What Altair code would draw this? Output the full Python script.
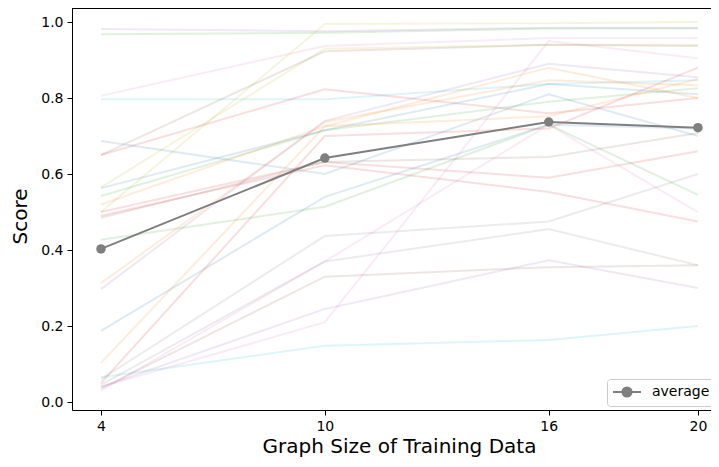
import altair as alt
import pandas as pd

# x positions (graph size of training data)
sizes = [4, 10, 16, 20]

# per-run colours (matplotlib tab10 cycle)
run_colors = [
    "#9467bd", "#2ca02c", "#bcbd22", "#bcbd22", "#e377c2", "#8c564b",
    "#d62728", "#17becf", "#1f77b4", "#1f77b4", "#2ca02c", "#ff7f0e",
    "#d62728", "#8c564b", "#2ca02c", "#ff7f0e", "#9467bd", "#1f77b4",
    "#ff7f0e", "#d62728", "#d62728", "#e377c2", "#e377c2", "#7f7f7f",
    "#7f7f7f", "#8c564b", "#9467bd", "#17becf",
]

# per-run scores at sizes 4, 10, 16, 20
run_scores = [
    [0.982, 0.976, 0.985, 0.985],
    [0.968, 0.972, 0.983, 0.983],
    [0.500, 0.995, 0.997, 1.000],
    [0.565, 0.930, 0.940, 0.940],
    [0.806, 0.937, 0.958, 0.958],
    [0.650, 0.923, 0.940, 0.937],
    [0.650, 0.823, 0.760, 0.800],
    [0.797, 0.797, 0.837, 0.847],
    [0.687, 0.600, 0.810, 0.700],
    [0.563, 0.715, 0.837, 0.810],
    [0.542, 0.715, 0.790, 0.826],
    [0.520, 0.726, 0.880, 0.800],
    [0.500, 0.632, 0.590, 0.660],
    [0.485, 0.632, 0.645, 0.708],
    [0.427, 0.514, 0.730, 0.545],
    [0.313, 0.737, 0.847, 0.834],
    [0.297, 0.740, 0.890, 0.855],
    [0.187, 0.540, 0.730, 0.720],
    [0.103, 0.726, 0.752, 0.850],
    [0.050, 0.700, 0.720, 0.880],
    [0.490, 0.623, 0.553, 0.475],
    [0.040, 0.210, 0.950, 0.905],
    [0.030, 0.370, 0.730, 0.500],
    [0.060, 0.437, 0.475, 0.600],
    [0.045, 0.370, 0.455, 0.360],
    [0.035, 0.330, 0.355, 0.360],
    [0.040, 0.245, 0.373, 0.300],
    [0.065, 0.148, 0.163, 0.200],
]

# average curve
average_scores = [0.403, 0.642, 0.737, 0.722]
average_label = "average"

y_ticks = [0.0, 0.2, 0.4, 0.6, 0.8, 1.0]

rows = []
for i, (col, vals) in enumerate(zip(run_colors, run_scores)):
    for s, v in zip(sizes, vals):
        rows.append({"run": i, "color": col, "size": s, "score": v})
runs_df = pd.DataFrame(rows)
avg_df = pd.DataFrame({"size": sizes, "score": average_scores,
                       "label": [average_label] * len(sizes)})

W, H = 639, 402
FONT = "DejaVu Sans"

x_enc = alt.X("size:Q", scale=alt.Scale(domain=[3.223, 20.35], nice=False, zero=False),
              axis=alt.Axis(values=sizes, format="d", title="Graph Size of Training Data",
                            titleX=327, titleY=42, titleBaseline="alphabetic",
                            titleAlign="center"))
y_enc = alt.Y("score:Q", scale=alt.Scale(domain=[-0.021, 1.037], nice=False, zero=False),
              axis=alt.Axis(values=y_ticks, format=".1f", title="Score",
                            titleX=-52, titleY=208, titleAngle=-90, titleAlign="center",
                            titleBaseline="middle"))

runs = alt.Chart(runs_df).mark_line(strokeWidth=2, opacity=0.15).encode(
    x=x_enc, y=y_enc, detail="run:N",
    stroke=alt.Stroke("color:N", scale=None),
)

legend_symbol = "M-1,0L3,0M1.65,0A0.65,0.65,0,1,1,0.35,0A0.65,0.65,0,1,1,1.65,0Z"

avg_line = alt.Chart(avg_df).mark_line(strokeWidth=2).encode(
    x=x_enc, y=y_enc,
    color=alt.Color("label:N", scale=alt.Scale(domain=[average_label], range=["#7f7f7f"]),
                    legend=alt.Legend(title=None, orient="none", legendX=535, legendY=371,
                                      symbolType=legend_symbol, symbolSize=196,
                                      symbolStrokeWidth=2, symbolFillColor="#7f7f7f",
                                      symbolStrokeColor="#7f7f7f", symbolOpacity=1,
                                      labelFontSize=14, labelFont=FONT, labelColor="black",
                                      labelOffset=24, padding=5, strokeColor="#cccccc",
                                      fillColor="white", cornerRadius=3)),
)

avg_pts = alt.Chart(avg_df).mark_circle(size=90, opacity=1, color="#7f7f7f").encode(
    x=x_enc, y=y_enc)

top_border = alt.Chart(avg_df).mark_rule(color="black", strokeWidth=1).encode(
    x=alt.value(0), x2=alt.value(W), y=alt.value(0.5))

chart = alt.layer(runs, avg_line, avg_pts, top_border).properties(
    width=W, height=H,
    padding={"left": 64, "top": 0, "right": 0, "bottom": 49},
    autosize=alt.AutoSizeParams(type="none"),
    background="white",
).configure_view(stroke=None).configure_axis(
    grid=False, domainColor="black", domainWidth=1, tickColor="black", tickWidth=1,
    tickSize=5, labelPadding=4, labelFont=FONT, labelFontSize=14, labelColor="black",
    titleFont=FONT, titleFontSize=20, titleFontWeight="normal", titleColor="black",
)

chart.save("out.html", embed_options={"renderer": "svg", "actions": False})
